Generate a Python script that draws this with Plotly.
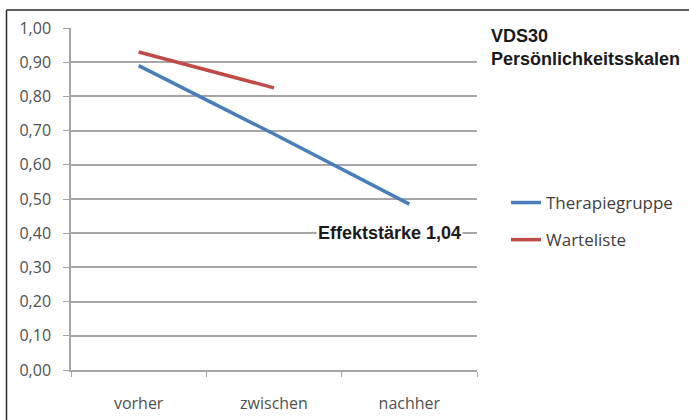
import plotly.graph_objects as go

# Messzeitpunkte und Mittelwerte
zeitpunkte = ["vorher", "zwischen", "nachher"]
therapiegruppe = [0.89, 0.69, 0.485]
warteliste = [0.93, 0.825]
y_ticks = [0.0, 0.1, 0.2, 0.3, 0.4, 0.5, 0.6, 0.7, 0.8, 0.9, 1.0]

W, H = 689, 420
L, R, T, B = 71, 212, 28, 50
pw, ph = W - L - R, H - T - B

def px_x(x):
    return (x - L) / pw

def px_y(y):
    return (H - B - y) / ph

fig = go.Figure()
fig.add_trace(go.Scatter(
    x=zeitpunkte, y=therapiegruppe, mode="lines", name="Therapiegruppe",
    line=dict(color="#4a7ebb", width=3.5), legendgroup="a"))
fig.add_trace(go.Scatter(
    x=zeitpunkte[:len(warteliste)], y=warteliste, mode="lines", name="Warteliste",
    line=dict(color="#be4b48", width=3.5), legendgroup="b"))

tick_font = dict(family="Open Sans, sans-serif", size=16, color="#505050")

fig.update_layout(
    width=W, height=H,
    margin=dict(l=L, r=R, t=T, b=B, autoexpand=False),
    paper_bgcolor="white", plot_bgcolor="white",
    separators=",.",
    showlegend=True,
    legend=dict(x=px_x(506), y=px_y(185), xanchor="left", yanchor="top",
                font=dict(family="Open Sans, sans-serif", size=17, color="#404040"),
                tracegroupgap=12, bgcolor="rgba(0,0,0,0)"),
    xaxis=dict(type="category", range=[-0.5, 2.5], showgrid=False, automargin=False,
               showline=True, linecolor="#a6a6a6", linewidth=1.5,
               ticks="outside", tickson="boundaries", ticklen=5,
               tickcolor="#a6a6a6", tickfont=tick_font, ticklabelstandoff=18),
    yaxis=dict(range=[0, 1], tickvals=y_ticks, tickformat=".2f", automargin=False,
               showgrid=True, gridcolor="#a6a6a6", gridwidth=1.5,
               showline=True, linecolor="#a6a6a6", linewidth=1.5,
               ticks="outside", ticklen=6, tickcolor="#a6a6a6",
               tickfont=tick_font, ticklabelstandoff=9, zeroline=False),
)

# Rahmen links und oben
fig.add_shape(type="line", xref="paper", yref="paper",
              x0=px_x(6.5), x1=px_x(6.5), y0=px_y(10), y1=px_y(430),
              line=dict(color="#2a2a2a", width=1.5))
fig.add_shape(type="line", xref="paper", yref="paper",
              x0=px_x(6.5), x1=px_x(700), y0=px_y(10), y1=px_y(10),
              line=dict(color="#2a2a2a", width=1.5))

# Titel
fig.add_annotation(xref="paper", yref="paper", x=px_x(489), y=px_y(24),
                   xanchor="left", yanchor="top", showarrow=False, align="left",
                   text="<b>VDS30<br>Persönlichkeitsskalen</b>",
                   font=dict(family="Liberation Sans, Arial, sans-serif", size=18, color="#1a1a1a"))

# Effektstärke
fig.add_annotation(xref="paper", yref="y", x=px_x(389), y=0.4,
                   xanchor="center", yanchor="middle", showarrow=False,
                   text="<b>Effektstärke 1,04</b>", bgcolor="white",
                   font=dict(family="Liberation Sans Narrow, Arial Narrow, sans-serif", size=18, color="#1a1a1a"))

fig.write_html("out.html")
